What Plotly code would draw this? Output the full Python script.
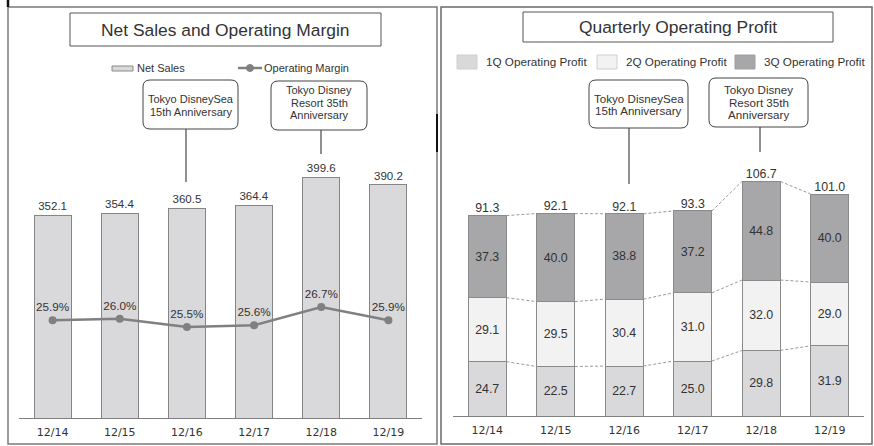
import plotly.graph_objects as go

# ---------------- data ----------------
years = ["12/14", "12/15", "12/16", "12/17", "12/18", "12/19"]
net_sales = [352.1, 354.4, 360.5, 364.4, 399.6, 390.2]
op_margin = [25.9, 26.0, 25.5, 25.6, 26.7, 25.9]
q1_profit = [24.7, 22.5, 22.7, 25.0, 29.8, 31.9]
q2_profit = [29.1, 29.5, 30.4, 31.0, 32.0, 29.0]
q3_profit = [37.3, 40.0, 38.8, 37.2, 44.8, 40.0]
q_totals = [91.3, 92.1, 92.1, 93.3, 106.7, 101.0]

W, H = 874, 446
FONT = "Liberation Sans, Arial, sans-serif"
TICKFONT = "DejaVu Sans, Verdana, sans-serif"
TXT = "#333333"


def X(p):
    return p / W


def Y(p):
    return 1 - p / H


xs = list(range(len(years)))

fig = go.Figure()

# ---------- left: net sales & operating margin ----------
fig.add_trace(go.Bar(
    x=xs, y=net_sales, width=0.55, xaxis="x", yaxis="y",
    marker=dict(color="#d9d9db", line=dict(color="#858585", width=1)),
    text=[f"{v:.1f}" for v in net_sales], textposition="outside",
    textfont=dict(family=FONT, size=11.5, color=TXT),
    cliponaxis=False, showlegend=False, name="Net Sales"))

fig.add_trace(go.Scatter(
    x=xs, y=op_margin, xaxis="x", yaxis="y2",
    mode="lines+markers+text",
    text=[f"{v:.1f}%" for v in op_margin], textposition="top center",
    textfont=dict(family=FONT, size=11.7, color=TXT),
    line=dict(color="#808080", width=2.5),
    marker=dict(color="#808080", size=8),
    cliponaxis=False, showlegend=False, name="Operating Margin"))

# ---------- right: quarterly operating profit ----------
q_series = [(q1_profit, "#d9d9db", "1Q Operating Profit"),
            (q2_profit, "#f2f2f2", "2Q Operating Profit"),
            (q3_profit, "#a7a7aa", "3Q Operating Profit")]
for vals, col, nm in q_series:
    fig.add_trace(go.Bar(
        x=xs, y=vals, width=0.56, xaxis="x2", yaxis="y3",
        marker=dict(color=col, line=dict(color="#8a8a8a", width=1)),
        text=[f"{v:.1f}" for v in vals], textposition="inside",
        insidetextanchor="middle", constraintext="none",
        textfont=dict(family=FONT, size=12.4, color=TXT),
        showlegend=False, name=nm))

# cumulative levels for connectors and totals
cum = []
run = [0.0] * len(xs)
for vals, _, _ in q_series:
    run = [a + b for a, b in zip(run, vals)]
    cum.append(run[:])

hw = 0.28
cx, cy = [], []
for level in cum:
    for i in range(len(xs) - 1):
        cx += [xs[i] + hw, xs[i + 1] - hw, None]
        cy += [level[i], level[i + 1], None]
fig.add_trace(go.Scatter(
    x=cx, y=cy, xaxis="x2", yaxis="y3", mode="lines",
    line=dict(color="#9a9a9a", width=1, dash="3px,2px"),
    hoverinfo="skip", showlegend=False))

fig.add_trace(go.Scatter(
    x=xs, y=cum[-1], xaxis="x2", yaxis="y3", mode="text",
    text=[f"{v:.1f}" for v in q_totals], textposition="top center",
    textfont=dict(family=FONT, size=12.4, color=TXT),
    cliponaxis=False, showlegend=False))

# ---------------- axes ----------------
ax_common = dict(range=[-0.5, 5.5], tickmode="array", tickvals=xs, ticktext=years,
                 showline=True, linecolor="#808080", linewidth=1, ticks="",
                 showgrid=False, zeroline=False, fixedrange=True,
                 ticklabelstandoff=4,
                 tickfont=dict(family=TICKFONT, size=11, color=TXT))
fig.update_layout(
    xaxis=dict(domain=[X(19), X(422)], anchor="y", **ax_common),
    yaxis=dict(domain=[Y(418), Y(150)], range=[98.4, 433.4], visible=False,
               showgrid=False, zeroline=False),
    yaxis2=dict(overlaying="y", range=[20.04, 36.12], visible=False,
                showgrid=False, zeroline=False),
    xaxis2=dict(domain=[X(453), X(864)], anchor="y3", **ax_common),
    yaxis3=dict(domain=[Y(416), Y(150)], range=[0, 120.9], visible=False,
                showgrid=False, zeroline=False),
    barmode="stack",
    width=W, height=H, margin=dict(l=0, r=0, t=0, b=0),
    paper_bgcolor="white", plot_bgcolor="rgba(0,0,0,0)",
    showlegend=False,
)

shapes = []
annotations = []


def rect(x0, y0, x1, y1, color="#808080", width=1.5, fill="rgba(0,0,0,0)", layer="below"):
    shapes.append(dict(type="rect", xref="paper", yref="paper",
                       x0=X(x0), x1=X(x1), y0=Y(y1), y1=Y(y0),
                       line=dict(color=color, width=width), fillcolor=fill, layer=layer))


def line(x0, y0, x1, y1, color="#222222", width=1):
    shapes.append(dict(type="line", xref="paper", yref="paper",
                       x0=X(x0), x1=X(x1), y0=Y(y0), y1=Y(y1),
                       line=dict(color=color, width=width)))


def rrect(x0, y0, x1, y1, r=7):
    p = (f"M {X(x0+r)},{Y(y0)} L {X(x1-r)},{Y(y0)} Q {X(x1)},{Y(y0)} {X(x1)},{Y(y0+r)} "
         f"L {X(x1)},{Y(y1-r)} Q {X(x1)},{Y(y1)} {X(x1-r)},{Y(y1)} "
         f"L {X(x0+r)},{Y(y1)} Q {X(x0)},{Y(y1)} {X(x0)},{Y(y1-r)} "
         f"L {X(x0)},{Y(y0+r)} Q {X(x0)},{Y(y0)} {X(x0+r)},{Y(y0)} Z")
    shapes.append(dict(type="path", xref="paper", yref="paper", path=p,
                       line=dict(color="#444444", width=1), fillcolor="white", layer="above"))


def text(x, y, s, size=11, anchor="center", color=TXT, family=FONT):
    annotations.append(dict(xref="paper", yref="paper", x=X(x), y=Y(y), text=s,
                            showarrow=False, xanchor=anchor, yanchor="middle",
                            font=dict(family=family, size=size, color=color)))


# panel borders
rect(8, 7, 437, 444, color="#7a7a7a", width=1.5)
rect(441, 7, 872, 444, color="#6a6a6a", width=1.5)
# small dark artefacts on frame
line(8, 0, 8, 7, color="#111111", width=2.5)
line(437, 114, 437, 152, color="#111111", width=2)

# titles
rect(70, 13, 381, 46, color="#555555", width=1, fill="white", layer="above")
text(225.5, 30, "Net Sales and Operating Margin", size=17.4)
rect(523, 12, 833, 42, color="#555555", width=1, fill="white", layer="above")
text(678, 27, "Quarterly Operating Profit", size=17.4)

# left legend
rect(112, 66, 133, 71, color="#8a8a8a", width=1, fill="#d9d9db", layer="above")
text(135, 68, "Net Sales", size=11, anchor="left")
line(238, 68, 262, 68, color="#808080", width=2.5)
shapes.append(dict(type="circle", xref="paper", yref="paper",
                   x0=X(246.5), x1=X(253.5), y0=Y(71.5), y1=Y(64.5),
                   line=dict(color="#808080", width=1), fillcolor="#808080"))
text(262, 68, "Operating Margin", size=11, anchor="left")

# right legend
for (vals, col, nm), sx in zip(q_series, [457, 597, 735]):
    rect(sx, 55, sx + 20, 69, color="#d0d0d0" if col != "#a7a7aa" else "#a0a0a3",
         width=1, fill=col, layer="above")
    text(sx + 27, 62, nm, size=11.7, anchor="left")

# callouts left
line(186, 129, 186, 182)
rrect(143, 80, 238, 129)
text(190.5, 99, "Tokyo DisneySea", size=11)
text(190.5, 111.5, "15th Anniversary", size=11)
line(321, 130, 321, 154)
rrect(271, 81, 367, 130)
text(319, 90, "Tokyo Disney", size=11)
text(319, 102.7, "Resort 35th", size=11)
text(319, 115, "Anniversary", size=11)

# callouts right
line(629, 128, 629, 184)
rrect(589, 80, 688, 128)
text(638.5, 99, "Tokyo DisneySea", size=11.6)
text(638.5, 110.5, "15th Anniversary", size=11.6)
line(760, 127, 760, 152)
rrect(709, 78, 808, 127)
text(758.5, 89.5, "Tokyo Disney", size=11.6)
text(758.5, 102, "Resort 35th", size=11.6)
text(758.5, 114.5, "Anniversary", size=11.6)

fig.update_layout(shapes=shapes, annotations=annotations)

fig.write_html("out.html", config={"displayModeBar": False},
               post_script="document.body.style.margin='0';document.body.style.overflow='hidden';")
